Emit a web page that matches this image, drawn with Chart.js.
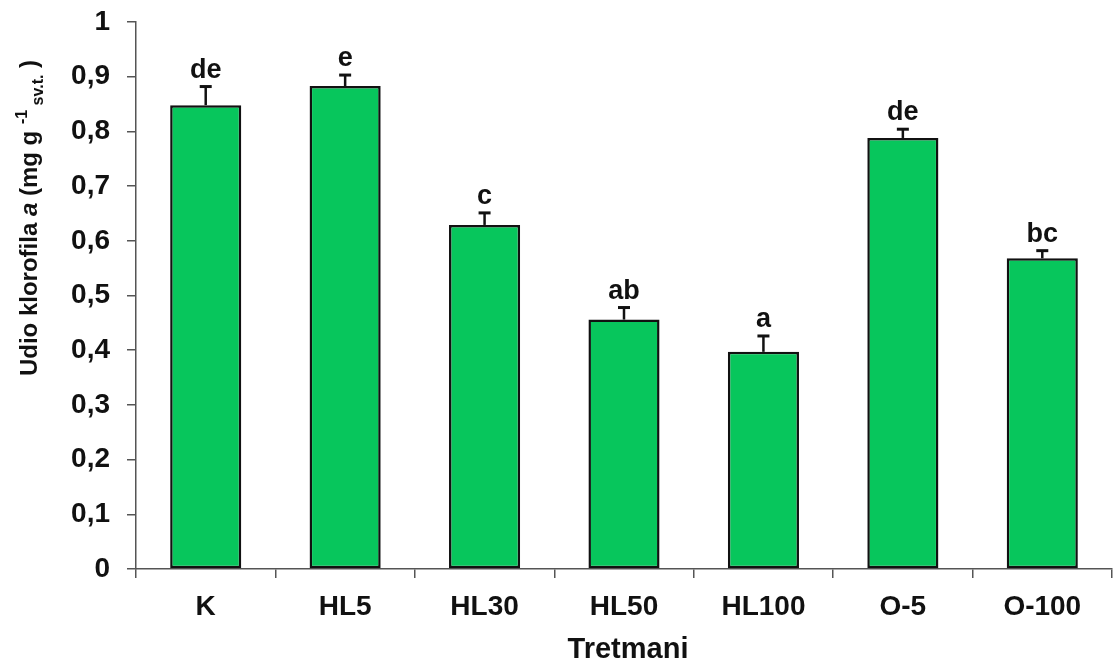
<!DOCTYPE html>
<html>
<head>
<meta charset="utf-8">
<script src="https://cdn.jsdelivr.net/npm/chart.js@4"></script>
<style>
  html, body { margin: 0; padding: 0; background: #fff; }
  canvas { display: block; }
</style>
</head>
<body>
<canvas id="graph" width="1114" height="663"></canvas>
<script>
    'use strict';

    // treatments on the x axis
    var tretmani = ['K', 'HL5', 'HL30', 'HL50', 'HL100', 'O-5', 'O-100'];
    // chlorophyll a content (mg/g fresh weight)
    var klorofilA = [0.848, 0.883, 0.629, 0.456, 0.397, 0.788, 0.568];
    // standard error (upper bar only)
    var greska = [0.034, 0.020, 0.022, 0.022, 0.029, 0.016, 0.014];
    // significance letters
    var slova = ['de', 'e', 'c', 'ab', 'a', 'de', 'bc'];
    var yTicks = [0, 0.1, 0.2, 0.3, 0.4, 0.5, 0.6, 0.7, 0.8, 0.9, 1];

    var FONT = '"Liberation Sans", Arial, sans-serif';
    var INK = '#111';
    var AXIS = '#555';

    //draws the upward error bars and the letters above them
    var errorBars = {
        id: 'errorBars',
        afterDatasetsDraw: function(chart) {
            var ctx = chart.ctx;
            var yScale = chart.scales.y;
            var meta = chart.getDatasetMeta(0);
            ctx.save();
            ctx.strokeStyle = INK;
            ctx.fillStyle = INK;
            meta.data.forEach(function(bar, i) {
                var top = yScale.getPixelForValue(klorofilA[i] + greska[i]);
                ctx.lineWidth = 2.5;
                ctx.beginPath();
                ctx.moveTo(bar.x, bar.y);
                ctx.lineTo(bar.x, top);
                ctx.stroke();
                ctx.lineWidth = 3;
                ctx.beginPath();
                ctx.moveTo(bar.x - 6, top);
                ctx.lineTo(bar.x + 6, top);
                ctx.stroke();
                ctx.font = 'bold 27px ' + FONT;
                ctx.textAlign = 'center';
                ctx.textBaseline = 'alphabetic';
                ctx.fillText(slova[i], bar.x, top - 9);
            });
            ctx.restore();
        }
    };

    //axis titles, the y one needs italic, superscript and subscript parts
    var axisTitles = {
        id: 'axisTitles',
        afterDraw: function(chart) {
            var ctx = chart.ctx;
            var area = chart.chartArea;
            ctx.save();
            ctx.fillStyle = INK;

            ctx.font = 'bold 29px ' + FONT;
            ctx.textAlign = 'center';
            ctx.textBaseline = 'alphabetic';
            ctx.fillText('Tretmani', 628, 658);

            var parts = [
                { t: 'Udio klorofila ', f: 'bold 24px ', dy: 0 },
                { t: 'a', f: 'italic bold 24px ', dy: 0 },
                { t: ' (mg g ', f: 'bold 24px ', dy: 0 },
                { t: '-1', f: 'bold 16px ', dy: -10 },
                { t: ' ', f: 'bold 16px ', dy: 0 },
                { t: 'sv.t.', f: 'bold 16px ', dy: 6 },
                { t: ' )', f: 'bold 24px ', dy: 0 }
            ];
            var total = 0;
            parts.forEach(function(p) {
                ctx.font = p.f + FONT;
                p.w = ctx.measureText(p.t).width;
                total += p.w;
            });
            ctx.translate(37, 218);
            ctx.rotate(-Math.PI / 2);
            ctx.textAlign = 'left';
            var x = -total / 2;
            parts.forEach(function(p) {
                ctx.font = p.f + FONT;
                ctx.fillText(p.t, x, p.dy);
                x += p.w;
            });
            ctx.restore();
        }
    };

    var ctx = document.getElementById('graph').getContext('2d');
    new Chart(ctx, {
        type: 'bar',
        data: {
            labels: tretmani,
            datasets: [{
                data: klorofilA,
                backgroundColor: '#07C65C',
                borderColor: INK,
                borderWidth: 2.5,
                borderSkipped: false,
                categoryPercentage: 1,
                barPercentage: 0.51
            }]
        },
        options: {
            responsive: false,
            animation: false,
            layout: { padding: { top: 22, right: 2, left: 0, bottom: 0 } },
            plugins: {
                legend: { display: false },
                tooltip: { enabled: false }
            },
            scales: {
                x: {
                    afterFit: function(scale) {
                        scale.height = 94;
                        scale.paddingLeft = 0;
                        scale.paddingRight = 0;
                    },
                    border: { display: true, color: AXIS, width: 1.5 },
                    grid: {
                        offset: true,
                        drawOnChartArea: false,
                        drawTicks: true,
                        tickLength: 9,
                        color: AXIS,
                        lineWidth: 1.5
                    },
                    ticks: {
                        color: INK,
                        padding: 12,
                        font: { family: FONT, size: 28, weight: 'bold' }
                    }
                },
                y: {
                    min: 0,
                    max: 1,
                    afterFit: function(scale) {
                        scale.width = 136;
                        scale.paddingTop = 0;
                        scale.paddingBottom = 0;
                    },
                    afterBuildTicks: function(scale) {
                        scale.ticks = yTicks.map(function(v) { return { value: v }; });
                    },
                    border: { display: true, color: AXIS, width: 1.5 },
                    grid: {
                        drawOnChartArea: false,
                        drawTicks: true,
                        tickLength: 9,
                        color: AXIS,
                        lineWidth: 1.5
                    },
                    ticks: {
                        color: INK,
                        padding: 17,
                        font: { family: FONT, size: 28, weight: 'bold' },
                        callback: function(v) {
                            return String(Math.round(v * 10) / 10).replace('.', ',');
                        }
                    }
                }
            }
        },
        plugins: [errorBars, axisTitles]
    });
</script>
</body>
</html>
